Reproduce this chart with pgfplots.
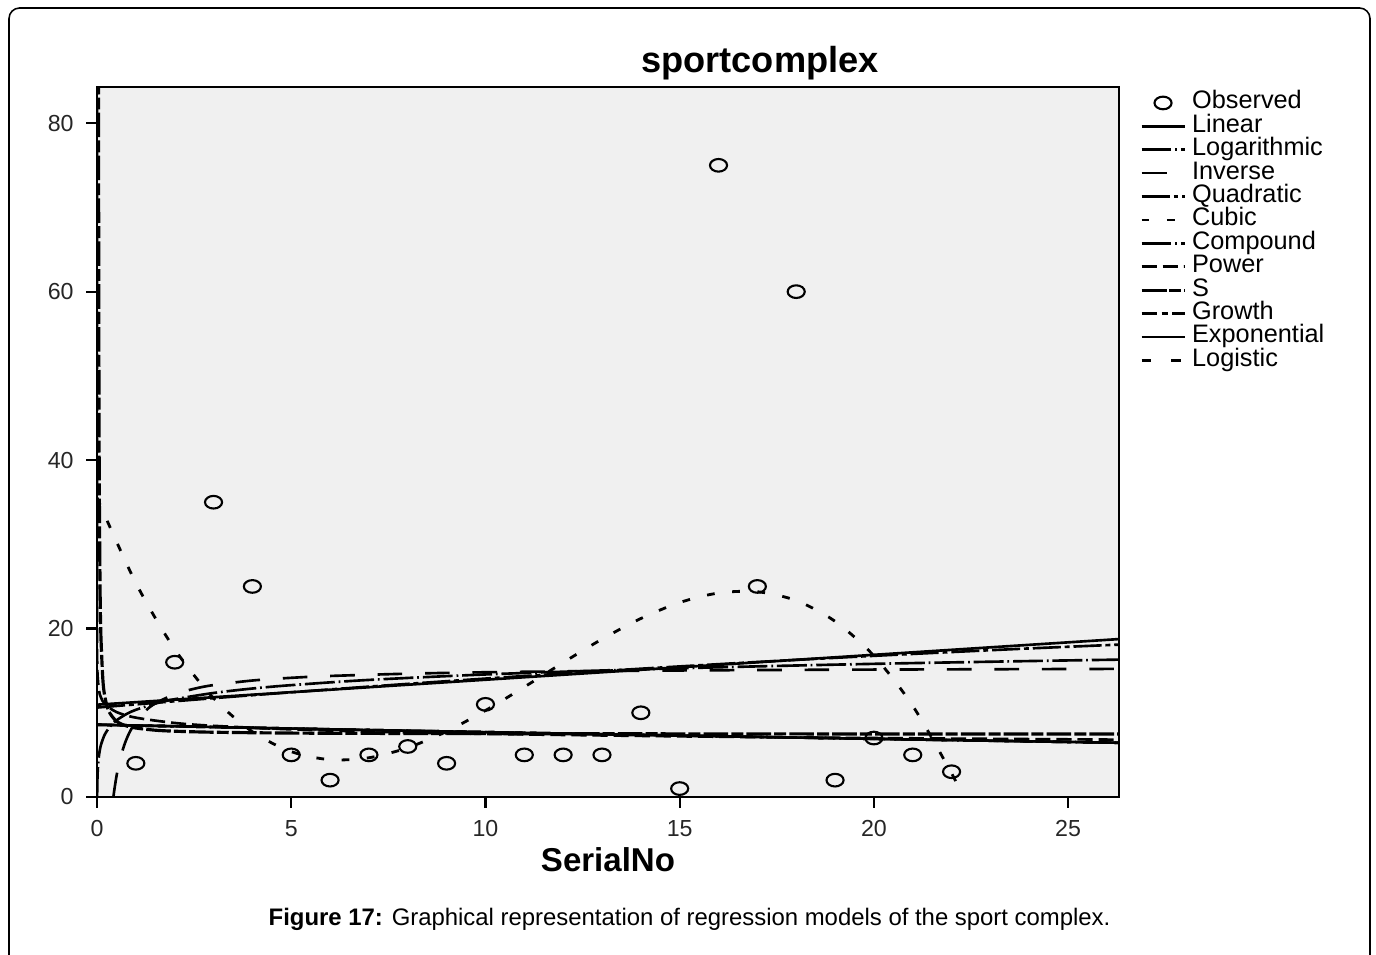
\documentclass[border=0pt]{standalone}
\usepackage{fontspec}
\setmainfont{Liberation Sans}
\usepackage{pgfplots}
\pgfplotsset{compat=1.18}

% dash patterns read off the legend samples
\tikzset{
  lnlinear/.style={line width=0.75pt},
  lnlog/.style={line width=0.75pt, dash pattern=on 8.5pt off 1.1pt on 0.5pt off 1.1pt},
  lninv/.style={line width=0.75pt, dash pattern=on 7pt off 6.5pt},
  lnquad/.style={line width=0.75pt, dash pattern=on 8pt off 1.1pt on 1.4pt off 1.1pt},
  lncubic/.style={line width=0.8pt, dash pattern=on 2.2pt off 5pt},
  lnpower/.style={line width=0.75pt, dash pattern=on 4.3pt off 1.7pt},
  lns/.style={line width=0.9pt, dash pattern=on 7pt off 0.9pt on 3.4pt off 0.9pt},
  lngrowth/.style={line width=0.75pt, dash pattern=on 4.3pt off 1.4pt on 1.7pt off 1.4pt},
  lnlogistic/.style={line width=0.75pt, dash pattern=on 2.8pt off 5.7pt},
}

\begin{document}
\begin{tikzpicture}
\useasboundingbox (0,0) rectangle (13.76,9.55);
\draw[line width=0.45pt, rounded corners=3pt] (0.09,-0.3) -- (0.09,9.47) -- (13.70,9.47) -- (13.70,-0.3);

\begin{axis}[
  at={(0.97cm,1.58cm)}, anchor=south west,
  scale only axis, width=10.22cm, height=7.10cm,
  xmin=0, xmax=26.31, ymin=0, ymax=84.3,
  xtick={0,5,...,25}, ytick={0,20,...,80},
  tick pos=left, tick align=outside, major tick length=0.11cm,
  axis background/.style={fill=black!6},
  axis line style={line width=0.65pt},
  every tick/.style={black, line width=0.65pt},
  tick label style={font=\fontsize{6.6}{7}\selectfont, text=black!85},
  /pgf/number format/assume math mode=true,
  legend cell align=left,
  legend style={at={(1.0205,0.994)}, anchor=north west, draw=none, fill=none,
    inner sep=0pt, outer sep=0pt, row sep=0pt,
    font=\fontsize{7.2}{8}\selectfont,
    nodes={inner xsep=0.06cm, inner ysep=0pt, text height=5pt, text depth=1.66pt}},
  legend image code/.code={\draw[mark repeat=2, mark phase=2, #1]
    plot coordinates {(0cm,0cm) (0.215cm,0cm) (0.43cm,0cm)};},
]

% observed
\addplot[only marks, mark=o, mark size=1.8pt,
  mark options={xscale=1.35, line width=0.6pt}]
coordinates {
  (1,4)(2,16)(3,35)(4,25)(5,5)(6,2)(7,5)(8,6)(9,4)(10,11)(11,5)
  (12,5)(13,5)(14,10)(15,1)(16,75)(17,25)(18,60)(19,2)(20,7)(21,5)(22,3)
};
\addlegendentry{Observed}

% linear
\addplot[lnlinear] coordinates {(0,10.96)(26.31,18.75)};
\addlegendentry{Linear}

% logarithmic
\addplot[lnlog, smooth] coordinates {
  (0.0034,0)(0.005,0.70)(0.01,1.96)(0.02,3.22)(0.05,4.89)(0.1,6.15)(0.2,7.42)
  (0.35,8.44)(0.5,9.09)(0.75,9.83)(1,10.35)(1.5,11.09)(2,11.61)(3,12.35)
  (4,12.88)(5,13.28)(7,13.90)(10,14.55)(13,15.02)(16,15.40)(20,15.81)
  (24,16.14)(26.31,16.31)
};
\addlegendentry{Logarithmic}

% inverse
\addplot[lninv, smooth] coordinates {
  (0.4218,0)(0.45,0.97)(0.5,2.42)(0.55,3.61)(0.6,4.59)(0.7,6.14)(0.8,7.31)
  (0.9,8.21)(1,8.94)(1.25,10.24)(1.5,11.11)(2,12.20)(2.5,12.85)(3,13.29)
  (4,13.83)(5,14.15)(6,14.37)(8,14.64)(10,14.81)(13,14.96)(16,15.05)
  (20,15.13)(26.31,15.21)
};
\addlegendentry{Inverse}

% quadratic
\addplot[lnquad, smooth] coordinates {
  (0,10.62)(2,11.37)(4,12.09)(6,12.77)(8,13.43)(10,14.06)(12,14.66)
  (14,15.23)(16,15.77)(18,16.28)(20,16.76)(22,17.21)(24,17.64)(26.31,18.09)
};
\addlegendentry{Quadratic}

% cubic
\addplot[lncubic, smooth] coordinates {
  (0,35.54)(1,25.41)(2,17.55)(3,11.73)(4,7.75)(5,5.39)(6,4.43)(7,4.66)
  (8,5.85)(9,7.79)(10,10.27)(11,13.06)(12,15.96)(13,18.74)(14,21.19)
  (15,23.09)(16,24.22)(17,24.37)(18,23.32)(19,20.86)(20,16.76)(21,10.82)
  (22,2.81)(22.3,0)
};
\addlegendentry{Cubic}

% compound
\addplot[lnlog] coordinates {(0,8.58)(6.5,7.99)(13,7.45)(19.5,6.94)(26.31,6.44)};
\addlegendentry{Compound}

% power
\addplot[lnpower, smooth] coordinates {
  (0.0000000001,92.7)(0.000001,37.1)(0.0001,23.5)(0.001,18.71)(0.01,14.88)
  (0.05,12.68)(0.1,11.84)(0.2,11.05)(0.5,10.09)(1,9.42)(2,8.79)(3,8.45)
  (5,8.03)(7.5,7.71)(10,7.49)(15,7.20)(20,7.00)(26.31,6.81)
};
\addlegendentry{Power}

% S
\addplot[lns, smooth] coordinates {
  (0.035,111.8)(0.04,79.7)(0.05,49.6)(0.06,36.2)(0.08,24.37)(0.1,19.22)
  (0.15,14.01)(0.2,11.97)(0.3,10.22)(0.5,9.00)(0.75,8.45)(1,8.19)(1.5,7.93)
  (2,7.81)(3,7.69)(5,7.59)(8,7.54)(12,7.51)(18,7.49)(26.31,7.475)
};
\addlegendentry{S}

% growth
\addplot[lngrowth] coordinates {(0,8.58)(6.5,7.99)(13,7.45)(19.5,6.94)(26.31,6.44)};
\addlegendentry{Growth}

% exponential
\addplot[lnlinear] coordinates {(0,8.58)(6.5,7.99)(13,7.45)(19.5,6.94)(26.31,6.44)};
\addlegendentry{Exponential}

% logistic
\addplot[lnlogistic] coordinates {(0,8.58)(6.5,7.99)(13,7.45)(19.5,6.94)(26.31,6.44)};
\addlegendentry{Logistic}

\end{axis}

\node[anchor=base, font=\bfseries\fontsize{10.3}{12}\selectfont] at (7.60,8.82) {sportcomplex};
\node[anchor=base, font=\bfseries\fontsize{9.4}{11}\selectfont] at (6.08,0.83) {SerialNo};
\node[anchor=base west, inner sep=0pt, font=\fontsize{6.8}{8}\selectfont] at (2.68,0.29)
  {\textbf{Figure 17:} Graphical representation of regression models of the sport complex.};
\end{tikzpicture}
\end{document}
